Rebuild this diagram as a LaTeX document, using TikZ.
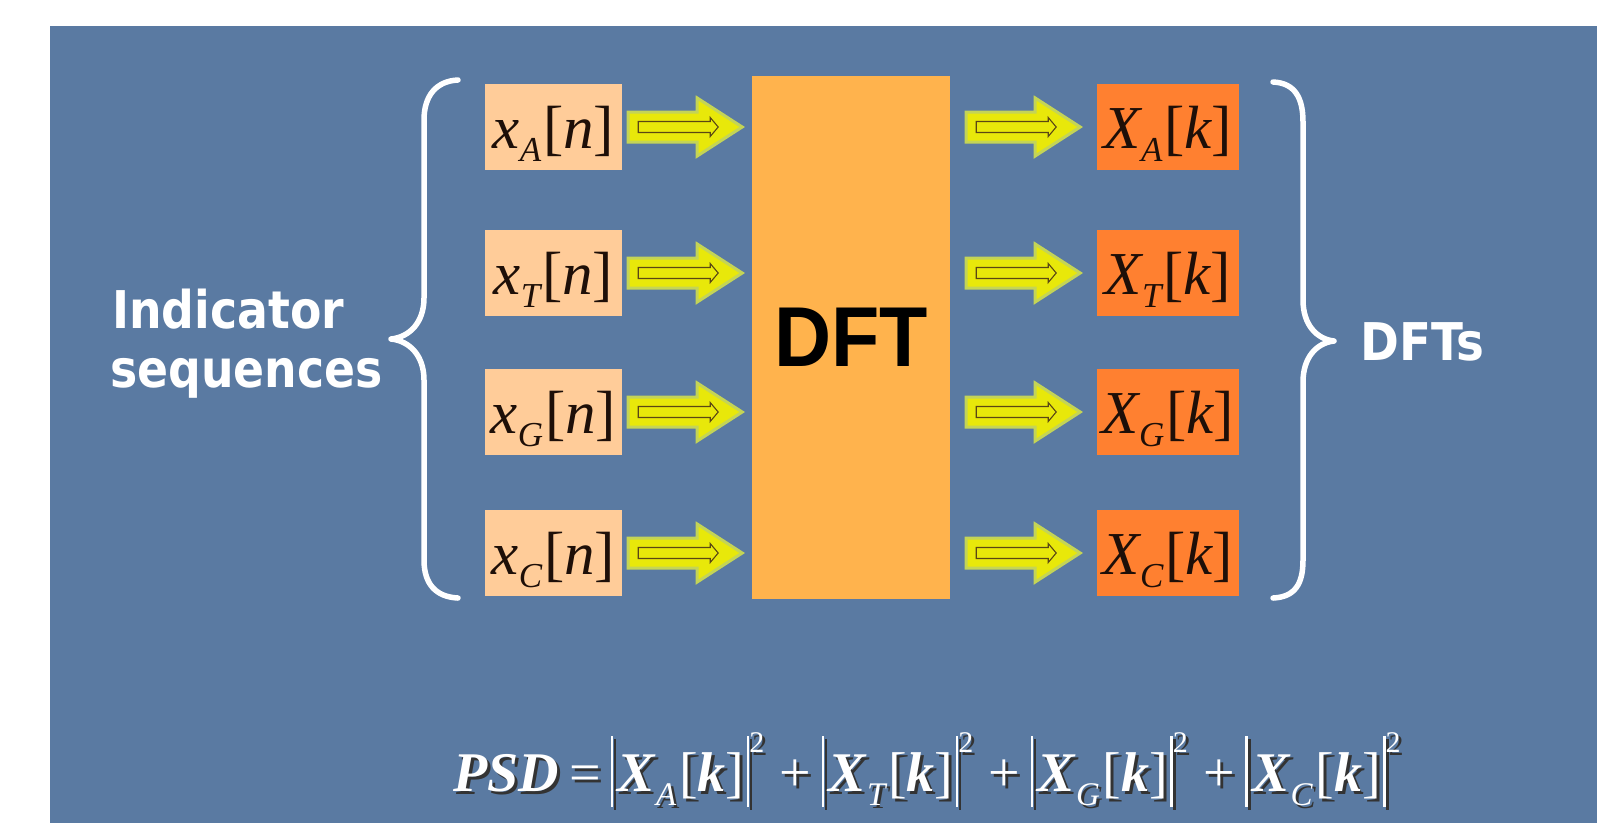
\documentclass[tikz,border=0pt]{standalone}
\usepackage{graphicx}
\usepackage{fontspec}
\setmainfont{Liberation Serif}
\newfontfamily\tahomafont{DejaVu Sans}
\newfontfamily\arialfont{Liberation Sans}
\usetikzlibrary{calc}

\definecolor{bgblue}{RGB}{90,122,162}
\definecolor{peach}{RGB}{255,204,153}
\definecolor{dftorange}{RGB}{255,179,77}
\definecolor{outorange}{RGB}{255,128,48}
\definecolor{arrowyellow}{RGB}{232,232,10}
\definecolor{arrowglow}{RGB}{196,212,86}
\definecolor{arrowdark}{RGB}{90,70,20}
\definecolor{inktext}{RGB}{30,15,8}

% signal label: #1 letter, #2 subscript, #3 index
\newcommand{\sig}[3]{{\itshape #1}\raisebox{-0.22em}{\fontsize{35}{38}\selectfont\itshape #2}\kern0.03em[{\itshape #3}]}
% PSD term
\newcommand{\psdbar}{\rule[-0.28em]{0.045em}{1.26em}}
\newcommand{\psdterm}[1]{\psdbar\kern0.08em\textbf{\textit{X}}\raisebox{-0.25em}{\fontsize{33}{35}\selectfont\itshape #1}\kern0.05em[\textbf{\textit{k}}]\kern0.04em\psdbar\raisebox{0.68em}{\fontsize{30}{32}\selectfont 2}}
\newcommand{\psdformula}{\textbf{\textit{PSD}}\kern0.18em=\kern0.18em\psdterm{A}\kern0.28em+\kern0.18em\psdterm{T}\kern0.28em+\kern0.18em\psdterm{G}\kern0.28em+\kern0.18em\psdterm{C}}

\tikzset{
  inbox/.style={fill=peach, inner sep=0pt, minimum width=137pt, text height=64pt, text depth=22pt,
    font=\fontsize{61}{66}\selectfont, text=inktext},
  outbox/.style={fill=outorange, inner sep=0pt, minimum width=142pt, text height=64pt, text depth=22pt,
    font=\fontsize{61}{66}\selectfont, text=inktext},
  dftbox/.style={fill=dftorange, inner sep=0pt, minimum width=198pt, minimum height=523pt,
    font=\arialfont\bfseries\fontsize{85}{90}\selectfont, text=black},
  sidelabel/.style={text=white, inner sep=0pt, font=\tahomafont\bfseries\fontsize{52}{56}\selectfont},
  bracestyle/.style={draw=white, line width=5.5pt, line cap=round, line join=round},
  fatarrow/.pic={
    \draw[line width=3pt, draw=arrowglow, fill=arrowyellow, line join=miter]
      (0,-15) -- (69,-15) -- (69,-29) -- (114,0) -- (69,29) -- (69,15) -- (0,15) -- cycle;
    \draw[line width=1.1pt, draw=arrowdark, fill=arrowyellow]
      (10,-5.5) -- (82,-5.5) -- (82,-9.5) -- (90,0) -- (82,9.5) -- (82,5.5) -- (10,5.5) -- cycle;
  }
}

\begin{document}
\begin{tikzpicture}[x=1pt, y=-1pt]
\useasboundingbox (0,0) rectangle (1597,823);
\fill[white] (0,0) rectangle (1597,823);
\fill[bgblue] (50,26) rectangle (1597,823);

% inputs
\node[inbox] (xa) at (553.5,127) {\sig{x}{A}{n}};
\node[inbox] (xt) at (553.5,273) {\sig{x}{T}{n}};
\node[inbox] (xg) at (553.5,412) {\sig{x}{G}{n}};
\node[inbox] (xc) at (553.5,553) {\sig{x}{C}{n}};

% DFT block
\node[dftbox] (dft) at (851,337.5) {\scalebox{0.93}[1]{DFT}};

% outputs
\node[outbox] (ya) at (1168,127) {\sig{X}{A}{k}};
\node[outbox] (yt) at (1168,273) {\sig{X}{T}{k}};
\node[outbox] (yg) at (1168,412) {\sig{X}{G}{k}};
\node[outbox] (yc) at (1168,553) {\sig{X}{C}{k}};

% block arrows
\foreach \n in {xa,xt,xg,xc} { \pic at ($(\n.east)+(6,0)$) {fatarrow}; }
\foreach \n in {ya,yt,yg,yc} { \pic at ($(dft.east |- \n.center)+(16,0)$) {fatarrow}; }

% braces
\draw[bracestyle] (458,80) .. controls (436,81) and (424,96) .. (424,120) -- (424,298)
  .. controls (424,322) and (410,337) .. (391,339)
  .. controls (410,341) and (424,356) .. (424,380) -- (424,560)
  .. controls (424,584) and (436,597) .. (458,598);
\draw[bracestyle] (1273,82) .. controls (1295,83) and (1303,98) .. (1303,122) -- (1303,300)
  .. controls (1303,324) and (1316,339) .. (1334,341)
  .. controls (1316,343) and (1303,358) .. (1303,382) -- (1303,560)
  .. controls (1303,584) and (1295,597) .. (1273,598);

% side labels
\node[sidelabel, anchor=base west] (ind) at (112,328) {\scalebox{0.88}[1]{Indicator}};
\node[sidelabel, anchor=base west] (seq) at (110,387) {\scalebox{0.88}[1]{sequences}};
\node[sidelabel, anchor=base west] (dfts) at (1360,360) {\scalebox{0.9}[1]{DFTs}};

% PSD formula with shadow
\node[anchor=base west, inner sep=0pt, text=black!80, font=\fontsize{56}{60}\selectfont] (psdshadow) at (456,794) {\psdformula};
\node[anchor=base west, inner sep=0pt, text=white, font=\fontsize{56}{60}\selectfont] (psd) at (453,791) {\psdformula};
\end{tikzpicture}
\end{document}
